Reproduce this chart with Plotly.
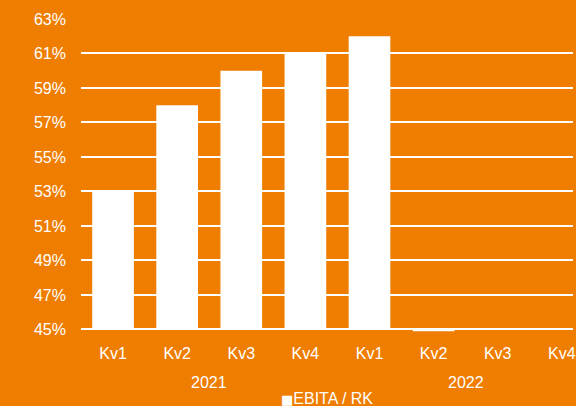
import plotly.graph_objects as go

quarters = ["Kv1", "Kv2", "Kv3", "Kv4", "Kv1", "Kv2", "Kv3", "Kv4"]
years = ["2021", "2022"]
year_groups = [[0, 1, 2, 3], [4, 5, 6, 7]]
ebita_rk = [53, 58, 60, 61, 62, 44.9, None, None]
series_name = "EBITA / RK"
y_ticks = [45, 47, 49, 51, 53, 55, 57, 59, 61, 63]

ORANGE = "#EF7D00"
FONT = "Liberation Sans, Arial, sans-serif"

x_idx = list(range(len(quarters)))
base_val = 45
fig = go.Figure()
fig.add_trace(go.Bar(
    x=x_idx,
    y=[(v - base_val) if v is not None else None for v in ebita_rk],
    base=base_val,
    marker=dict(color="white", line=dict(width=0)),
    name=series_name,
    showlegend=False,
))

for yr, grp in zip(years, year_groups):
    fig.add_annotation(x=sum(grp) / len(grp), y=-0.195, xref="x", yref="paper",
                       text=yr, showarrow=False,
                       font=dict(family=FONT, size=16, color="white"))

fig.add_annotation(x=0.5, y=-0.245, xref="paper", yref="paper",
                   text="<span style='font-family:DejaVu Sans;font-size:13px'>■</span>" + series_name,
                   showarrow=False, xanchor="center",
                   font=dict(family=FONT, size=16, color="white"))

fig.update_layout(
    width=576, height=406,
    margin=dict(l=81, r=0, t=19, b=74),
    paper_bgcolor=ORANGE, plot_bgcolor=ORANGE,
    bargap=0.35,
    font=dict(family=FONT, size=16, color="white"),
    xaxis=dict(
        range=[-0.5, 7.174],
        tickvals=x_idx, ticktext=quarters,
        showgrid=False, zeroline=False, showline=False,
        ticks="", ticklabelstandoff=10, ticklabeloverflow="allow",
        tickfont=dict(family=FONT, size=16, color="white"),
    ),
    yaxis=dict(
        range=[44.85, 63],
        tickvals=y_ticks, ticktext=[f"{t}%" for t in y_ticks],
        showgrid=True, gridcolor="white", gridwidth=1.5,
        zeroline=False, showline=False,
        ticks="", ticklabelstandoff=14,
        tickfont=dict(family=FONT, size=16, color="white"),
    ),
)

fig.write_html("out.html")
